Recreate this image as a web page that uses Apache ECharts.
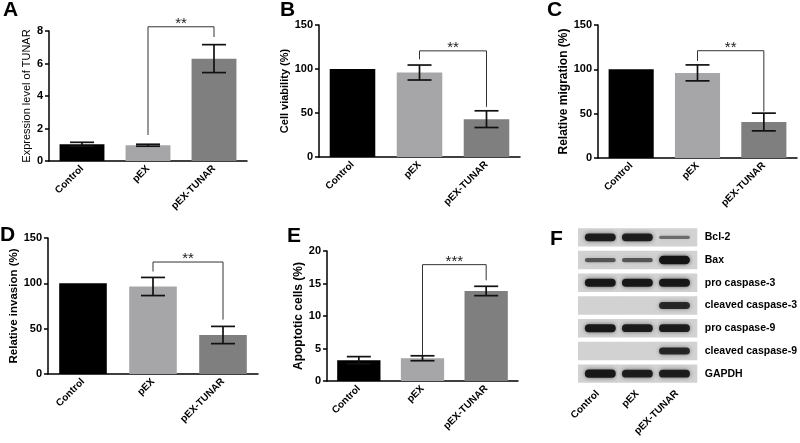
<!DOCTYPE html>
<html><head><meta charset="utf-8">
<script src="https://cdn.jsdelivr.net/npm/echarts@6/dist/echarts.min.js"></script>
<style>html,body{margin:0;padding:0;background:#fff}#c{width:800px;height:443px}</style>
</head><body><div id="c"></div>
<script>
// ---------- data ----------
const categories = ['Control', 'pEX', 'pEX-TUNAR'];
const barColors = ['#000000', '#a6a6a8', '#7f7f7f'];

// A: expression of TUNAR
const tunarMean = [1.03, 0.97, 6.30];
const tunarErr  = [0.12, 0.06, 0.86];
const tunarSig  = [1, 2, 8.26, 1.6, 7.63];   // from, to, top, leftFoot, rightFoot
const tunarTicks = [0, 8, 2];                  // min, max, interval
// B: cell viability
const viabMean = [100, 96, 43];
const viabErr  = [0, 8.5, 9.5];
const viabSig  = [1, 2, 120.6, 111, 57];
// C: relative migration
const migMean = [100, 96, 40.6];
const migErr  = [0, 9, 10];
const migSig  = [1, 2, 121, 109.5, 52.4];
// D: relative invasion
const invMean = [100, 96.5, 43];
const invErr  = [0, 10, 9.5];
const invSig  = [1, 2, 123.5, 113, 60];
const pctTicks = [0, 150, 50];
// E: apoptotic cells
const apopMean = [3.2, 3.5, 13.85];
const apopErr  = [0.55, 0.38, 0.72];
const apopSig  = [1, 2, 17.9, 3.95, 15.5];
const apopTicks = [0, 20, 5];
// F: western blot band intensities (0 = no band)
const proteins = ['Bcl-2', 'Bax', 'pro caspase-3', 'cleaved caspase-3', 'pro caspase-9', 'cleaved caspase-9', 'GAPDH'];
const bandBcl2  = [0.9, 0.9, 0.3];
const bandBax   = [0.45, 0.45, 1.0];
const bandProC3 = [0.95, 0.95, 0.95];
const bandClvC3 = [0, 0, 0.8];
const bandProC9 = [0.95, 0.9, 0.9];
const bandClvC9 = [0, 0, 0.8];
const bandGapdh = [0.95, 0.9, 0.9];

// ---------- layout / style ----------
const FONT = 'Liberation Sans, Arial, sans-serif';
const panels = [
  {letter:'A', lx:3,   ly:0,   grid:{left:49,  top:31,  width:198, height:130}, name:'Expression level of TUNAR', nameSize:11, nameWeight:'normal', nameGap:17, mean:tunarMean, err:tunarErr, sig:tunarSig, sigText:'**', ticks:tunarTicks},
  {letter:'B', lx:280, ly:0,   grid:{left:319, top:25,  width:201, height:132}, name:'Cell viability (%)', nameSize:11, nameWeight:'bold', nameGap:25, mean:viabMean, err:viabErr, sig:viabSig, sigText:'**', ticks:pctTicks},
  {letter:'C', lx:547, ly:0,   grid:{left:598, top:25,  width:199, height:133}, name:'Relative migration (%)', nameSize:12, nameWeight:'bold', nameGap:24, mean:migMean, err:migErr, sig:migSig, sigText:'**', ticks:pctTicks},
  {letter:'D', lx:0,   ly:225, grid:{left:48,  top:238, width:210, height:136}, name:'Relative invasion (%)', nameSize:11.5, nameWeight:'bold', nameGap:19, mean:invMean, err:invErr, sig:invSig, sigText:'**', ticks:pctTicks},
  {letter:'E', lx:287, ly:226, grid:{left:327, top:251, width:191, height:130}, name:'Apoptotic cells (%)', nameSize:12, nameWeight:'bold', nameGap:21, mean:apopMean, err:apopErr, sig:apopSig, sigText:'***', ticks:apopTicks}
];
const blotGrid = {left:578, top:226, width:120, height:159};

const grids = [], xAxes = [], yAxes = [], series = [], titles = [];

panels.forEach((p, i) => {
  grids.push(p.grid);
  titles.push({text:p.letter, left:p.lx, top:p.ly, padding:0, textStyle:{fontSize:21, fontWeight:'bold', color:'#000', fontFamily:FONT}});
  xAxes.push({
    type:'category', gridIndex:i, data:categories,
    axisLine:{lineStyle:{color:'#000', width:1.5}},
    axisTick:{alignWithLabel:true, length:4, lineStyle:{color:'#000', width:1.5}},
    axisLabel:{rotate:45, fontSize:10, fontWeight:'bold', color:'#000', margin:6, fontFamily:FONT, interval:0}
  });
  yAxes.push({
    type:'value', gridIndex:i, min:p.ticks[0], max:p.ticks[1], interval:p.ticks[2],
    name:p.name, nameLocation:'middle', nameGap:p.nameGap,
    nameTextStyle:{fontSize:p.nameSize, fontWeight:p.nameWeight, color:'#000', fontFamily:FONT},
    axisLine:{show:true, lineStyle:{color:'#000', width:1.5}},
    axisTick:{show:true, length:4, lineStyle:{color:'#000', width:1.5}},
    axisLabel:{fontSize:11, fontWeight:'bold', color:'#000', margin:6, fontFamily:FONT},
    splitLine:{show:false}
  });
  series.push({
    type:'bar', xAxisIndex:i, yAxisIndex:i, barCategoryGap:'32%',
    data:p.mean.map((v, k) => ({value:v, itemStyle:{color:barColors[k]}})),
    silent:true
  });
  series.push({
    type:'custom', xAxisIndex:i, yAxisIndex:i, silent:true, z:5,
    data:p.mean.map((v, k) => [k, v, p.err[k]]),
    encode:{x:0, y:1},
    renderItem:(params, api) => {
      const k = api.value(0), v = api.value(1), e = api.value(2);
      if (!e) return null;
      const t = api.coord([k, v + e]), b = api.coord([k, v - e]);
      const w = 12, st = {stroke:'#111', lineWidth:1.7};
      return {type:'group', children:[
        {type:'line', shape:{x1:t[0], y1:t[1], x2:b[0], y2:b[1]}, style:st},
        {type:'line', shape:{x1:t[0]-w, y1:t[1], x2:t[0]+w, y2:t[1]}, style:st},
        {type:'line', shape:{x1:b[0]-w, y1:b[1], x2:b[0]+w, y2:b[1]}, style:st}
      ]};
    }
  });
  series.push({
    type:'custom', xAxisIndex:i, yAxisIndex:i, silent:true, z:6,
    data:[p.sig], encode:{x:[0,1], y:[2,3,4]},
    renderItem:(params, api) => {
      const a = api.value(0), b = api.value(1);
      const top = api.value(2), lf = api.value(3), rf = api.value(4);
      const p1 = api.coord([a, lf]), p2 = api.coord([a, top]), p3 = api.coord([b, top]), p4 = api.coord([b, rf]);
      return {type:'group', children:[
        {type:'polyline', shape:{points:[p1, p2, p3, p4]}, style:{stroke:'#333', lineWidth:1, fill:null}},
        {type:'text', x:(p2[0]+p3[0])/2, y:p2[1]-3, style:{text:p.sigText, align:'center', verticalAlign:'middle', fontSize:15, fontWeight:'normal', fill:'#222', fontFamily:FONT}}
      ]};
    }
  });
});

// ---------- panel F: western blot ----------
const bi = panels.length;
const bandRows = [bandBcl2, bandBax, bandProC3, bandClvC3, bandProC9, bandClvC9, bandGapdh];
grids.push(blotGrid);
titles.push({text:'F', left:550, top:229, padding:0, textStyle:{fontSize:21, fontWeight:'bold', color:'#000', fontFamily:FONT}});
xAxes.push({
  type:'category', gridIndex:bi, data:categories,
  axisLine:{show:false}, axisTick:{show:false},
  axisLabel:{rotate:45, fontSize:10, fontWeight:'bold', color:'#000', margin:7, fontFamily:FONT, interval:0}
});
yAxes.push({
  type:'category', gridIndex:bi, data:proteins, inverse:true, position:'right',
  axisLine:{show:false}, axisTick:{show:false},
  axisLabel:{fontSize:10.5, fontWeight:'bold', color:'#000', margin:8, fontFamily:FONT, interval:0}
});
const blotData = [];
bandRows.forEach((row, r) => row.forEach((v, l) => blotData.push([l, r, v])));
series.push({
  type:'custom', xAxisIndex:bi, yAxisIndex:bi, silent:true,
  data:blotData, encode:{x:0, y:1},
  renderItem:(params, api) => {
    const l = api.value(0), r = api.value(1), v = api.value(2);
    const c = api.coord([l, r]);
    const sz = api.size([1, 1]);
    const boxH = sz[1] * 0.81;
    const children = [{type:'rect', shape:{x:c[0]-sz[0]/2, y:c[1]-boxH/2, width:sz[0]+0.5, height:boxH}, style:{fill:'#d2d2d2'}}];
    if (v > 0) {
      const bw = sz[0] * 0.78, bh = 1 + 7.5 * v;
      const cx = c[0] + (1 - l) * 2.5;
      children.push({type:'rect', shape:{x:cx-bw/2, y:c[1]-bh/2, width:bw, height:bh, r:bh/2},
        style:{fill:'rgba(20,20,20,' + (0.3 + 0.7 * v) + ')', shadowBlur:4, shadowColor:'rgba(0,0,0,' + (0.6 * v) + ')'}});
    }
    return {type:'group', children};
  }
});

const chart = echarts.init(document.getElementById('c'), null, {renderer:'canvas'});
chart.setOption({
  animation:false,
  backgroundColor:'#fff',
  textStyle:{fontFamily:FONT},
  title:titles, grid:grids, xAxis:xAxes, yAxis:yAxes, series
});
</script></body></html>
